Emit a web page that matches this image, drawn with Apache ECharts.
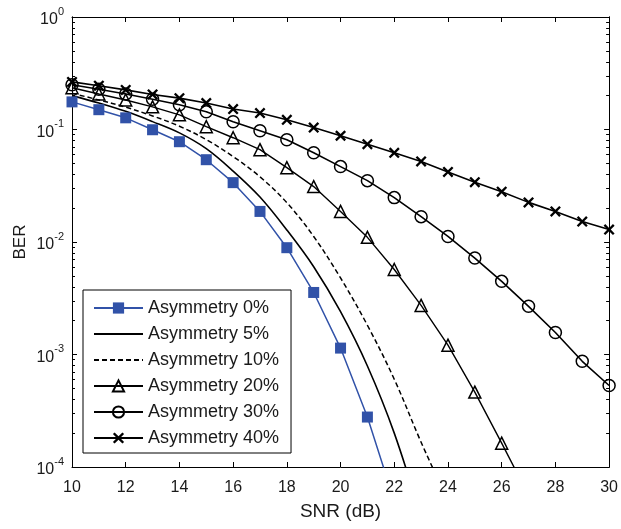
<!DOCTYPE html>
<html>
<head>
<meta charset="utf-8">
<script src="https://cdn.jsdelivr.net/npm/echarts@6/dist/echarts.min.js"></script>
<style>
html,body{margin:0;padding:0;background:#fff;}
#chart{width:621px;height:529px;}
</style>
</head>
<body>
<div id="chart"></div>
<script>
const snr = [10,11,12,13,14,15,16,17,18,19,20,21,22,23,24,25,26,27,28,29,30];
const seriesNames = ['Asymmetry 0%','Asymmetry 5%','Asymmetry 10%','Asymmetry 20%','Asymmetry 30%','Asymmetry 40%'];
const ber0  = [0.176,0.150,0.127,0.0995,0.0779,0.0539,0.0337,0.0187,0.0089,0.00356,0.00114,0.000278,0.00005];
const ber5  = [0.200,0.172,0.145,0.1175,0.0933,0.0676,0.0427,0.0251,0.0128,0.00603,0.0024,0.00079,0.0002,0.0000355];
const ber10 = [0.210,0.183,0.158,0.132,0.107,0.0813,0.0575,0.038,0.0224,0.0112,0.00479,0.00182,0.000603,0.000166,0.00005];
const ber20 = [0.235,0.207,0.183,0.159,0.135,0.106,0.0845,0.0662,0.0458,0.0311,0.0187,0.011,0.0057,0.00273,0.00121,0.000463,0.000163,0.000056];
const ber30 = [0.25,0.228,0.207,0.186,0.166,0.144,0.117,0.0975,0.081,0.0622,0.0468,0.0351,0.0248,0.0168,0.0112,0.0072,0.00447,0.00268,0.00157,0.00087,0.00053];
const ber40 = [0.265,0.245,0.225,0.205,0.19,0.172,0.152,0.14,0.122,0.104,0.088,0.074,0.062,0.052,0.042,0.034,0.028,0.0225,0.0187,0.0152,0.0129];
const xTicks = [10,12,14,16,18,20,22,24,26,28,30];
const yDecades = [1e-4,1e-3,1e-2,1e-1,1];
const yMinor = [];
for (let d = 0; d < yDecades.length - 1; d++) {
  for (let m = 2; m <= 9; m++) yMinor.push(+(m * yDecades[d]).toPrecision(3));
}

const pairs = arr => arr.map((v, i) => [snr[i], v]);
const FONT = 'Liberation Sans, Arial, sans-serif';
const TXT = '#1a1a1a';
const BLUE = '#3152a8';
const crossPath = 'path://M0,1.5L1.5,0L5,3.5L8.5,0L10,1.5L6.5,5L10,8.5L8.5,10L5,6.5L1.5,10L0,8.5L3.5,5Z';

const axisLine = {show:true, onZero:false, lineStyle:{color:'#000', width:1}};
function yAx(opts) {
  return Object.assign({
    type:'log', logBase:10, min:1e-4, max:1,
    axisLine: axisLine, splitLine:{show:false}, minorTick:{show:false},
    axisLabel:{show:false}
  }, opts);
}
function xAx(opts) {
  return Object.assign({
    type:'value', min:10, max:30, interval:2,
    axisLine: axisLine, splitLine:{show:false}, axisLabel:{show:false}
  }, opts);
}

const chart = echarts.init(document.getElementById('chart'), null, {renderer:'canvas'});
chart.setOption({
  animation:false,
  backgroundColor:'#fff',
  textStyle:{fontFamily:FONT, color:TXT},
  grid:{left:72, right:6, top:17, bottom:62, containLabel:false},
  xAxis:[
    xAx({position:'bottom', name:'SNR (dB)', nameLocation:'middle', nameGap:35, nameMoveOverlap:false,
      nameTextStyle:{fontSize:19, color:TXT, fontFamily:FONT},
      axisTick:{show:true, inside:true, length:5, lineStyle:{color:'#000'}, customValues:xTicks},
      axisLabel:{show:true, fontSize:16, color:TXT, fontFamily:FONT, margin:13, customValues:xTicks}}),
    xAx({position:'top', axisTick:{show:true, inside:true, length:5, lineStyle:{color:'#000'}, customValues:xTicks}})
  ],
  yAxis:[
    yAx({position:'left', name:'BER', nameLocation:'middle', nameGap:43, nameRotate:90, nameMoveOverlap:false,
      nameTextStyle:{fontSize:17, color:TXT, fontFamily:FONT},
      axisTick:{show:true, inside:true, length:5, lineStyle:{color:'#000'}, customValues:yDecades},
      axisLabel:{show:true, margin:8, customValues:yDecades,
        formatter: v => '{b|10}{s|' + Math.round(Math.log10(v)) + '}',
        rich:{
          b:{fontSize:16, color:TXT, fontFamily:FONT, lineHeight:22, verticalAlign:'bottom'},
          s:{fontSize:11, color:TXT, fontFamily:FONT, lineHeight:22, verticalAlign:'top'}
        }}}),
    yAx({position:'left', axisTick:{show:true, inside:true, length:3, lineStyle:{color:'#000'}, customValues:yMinor}}),
    yAx({position:'right', axisTick:{show:true, inside:true, length:5, lineStyle:{color:'#000'}, customValues:yDecades}}),
    yAx({position:'right', axisTick:{show:true, inside:true, length:3, lineStyle:{color:'#000'}, customValues:yMinor}})
  ],
  legend:{
    orient:'vertical', left:83, top:290,
    padding:[9,12,6,10], itemWidth:49, itemHeight:14, itemGap:8,
    backgroundColor:'#fff', borderColor:'#000', borderWidth:1,
    textStyle:{fontSize:18, color:TXT, fontFamily:FONT},
    data: seriesNames.map((n, i) => (i === 1 || i === 2) ? {name:n, itemStyle:{opacity:0}} : {name:n})
  },
  series:[
    {name:seriesNames[0], type:'line', data:pairs(ber0), symbol:'rect', symbolSize:11,
      lineStyle:{color:BLUE, width:1.5}, itemStyle:{color:BLUE}, color:BLUE, z:8},
    {name:seriesNames[1], type:'line', data:pairs(ber5), symbol:'none', smooth:0.35,
      lineStyle:{color:'#000', width:1.6}, itemStyle:{color:'#000'}, color:'#000'},
    {name:seriesNames[2], type:'line', data:pairs(ber10), symbol:'none', smooth:0.35,
      lineStyle:{color:'#000', width:1.5, type:[5,3]}, itemStyle:{color:'#000'}, color:'#000'},
    {name:seriesNames[3], type:'line', data:pairs(ber20), symbol:'triangle', symbolSize:12,
      lineStyle:{color:'#000', width:1.4}, itemStyle:{color:'rgba(255,255,255,0)', borderColor:'#000', borderWidth:1.5}, color:'#000'},
    {name:seriesNames[4], type:'line', data:pairs(ber30), symbol:'circle', symbolSize:12,
      lineStyle:{color:'#000', width:1.6}, itemStyle:{color:'rgba(255,255,255,0)', borderColor:'#000', borderWidth:1.5}, color:'#000'},
    {name:seriesNames[5], type:'line', data:pairs(ber40), symbol:crossPath, symbolSize:11,
      lineStyle:{color:'#000', width:1.6}, itemStyle:{color:'#000'}, color:'#000'}
  ]
});
</script>
</body>
</html>
